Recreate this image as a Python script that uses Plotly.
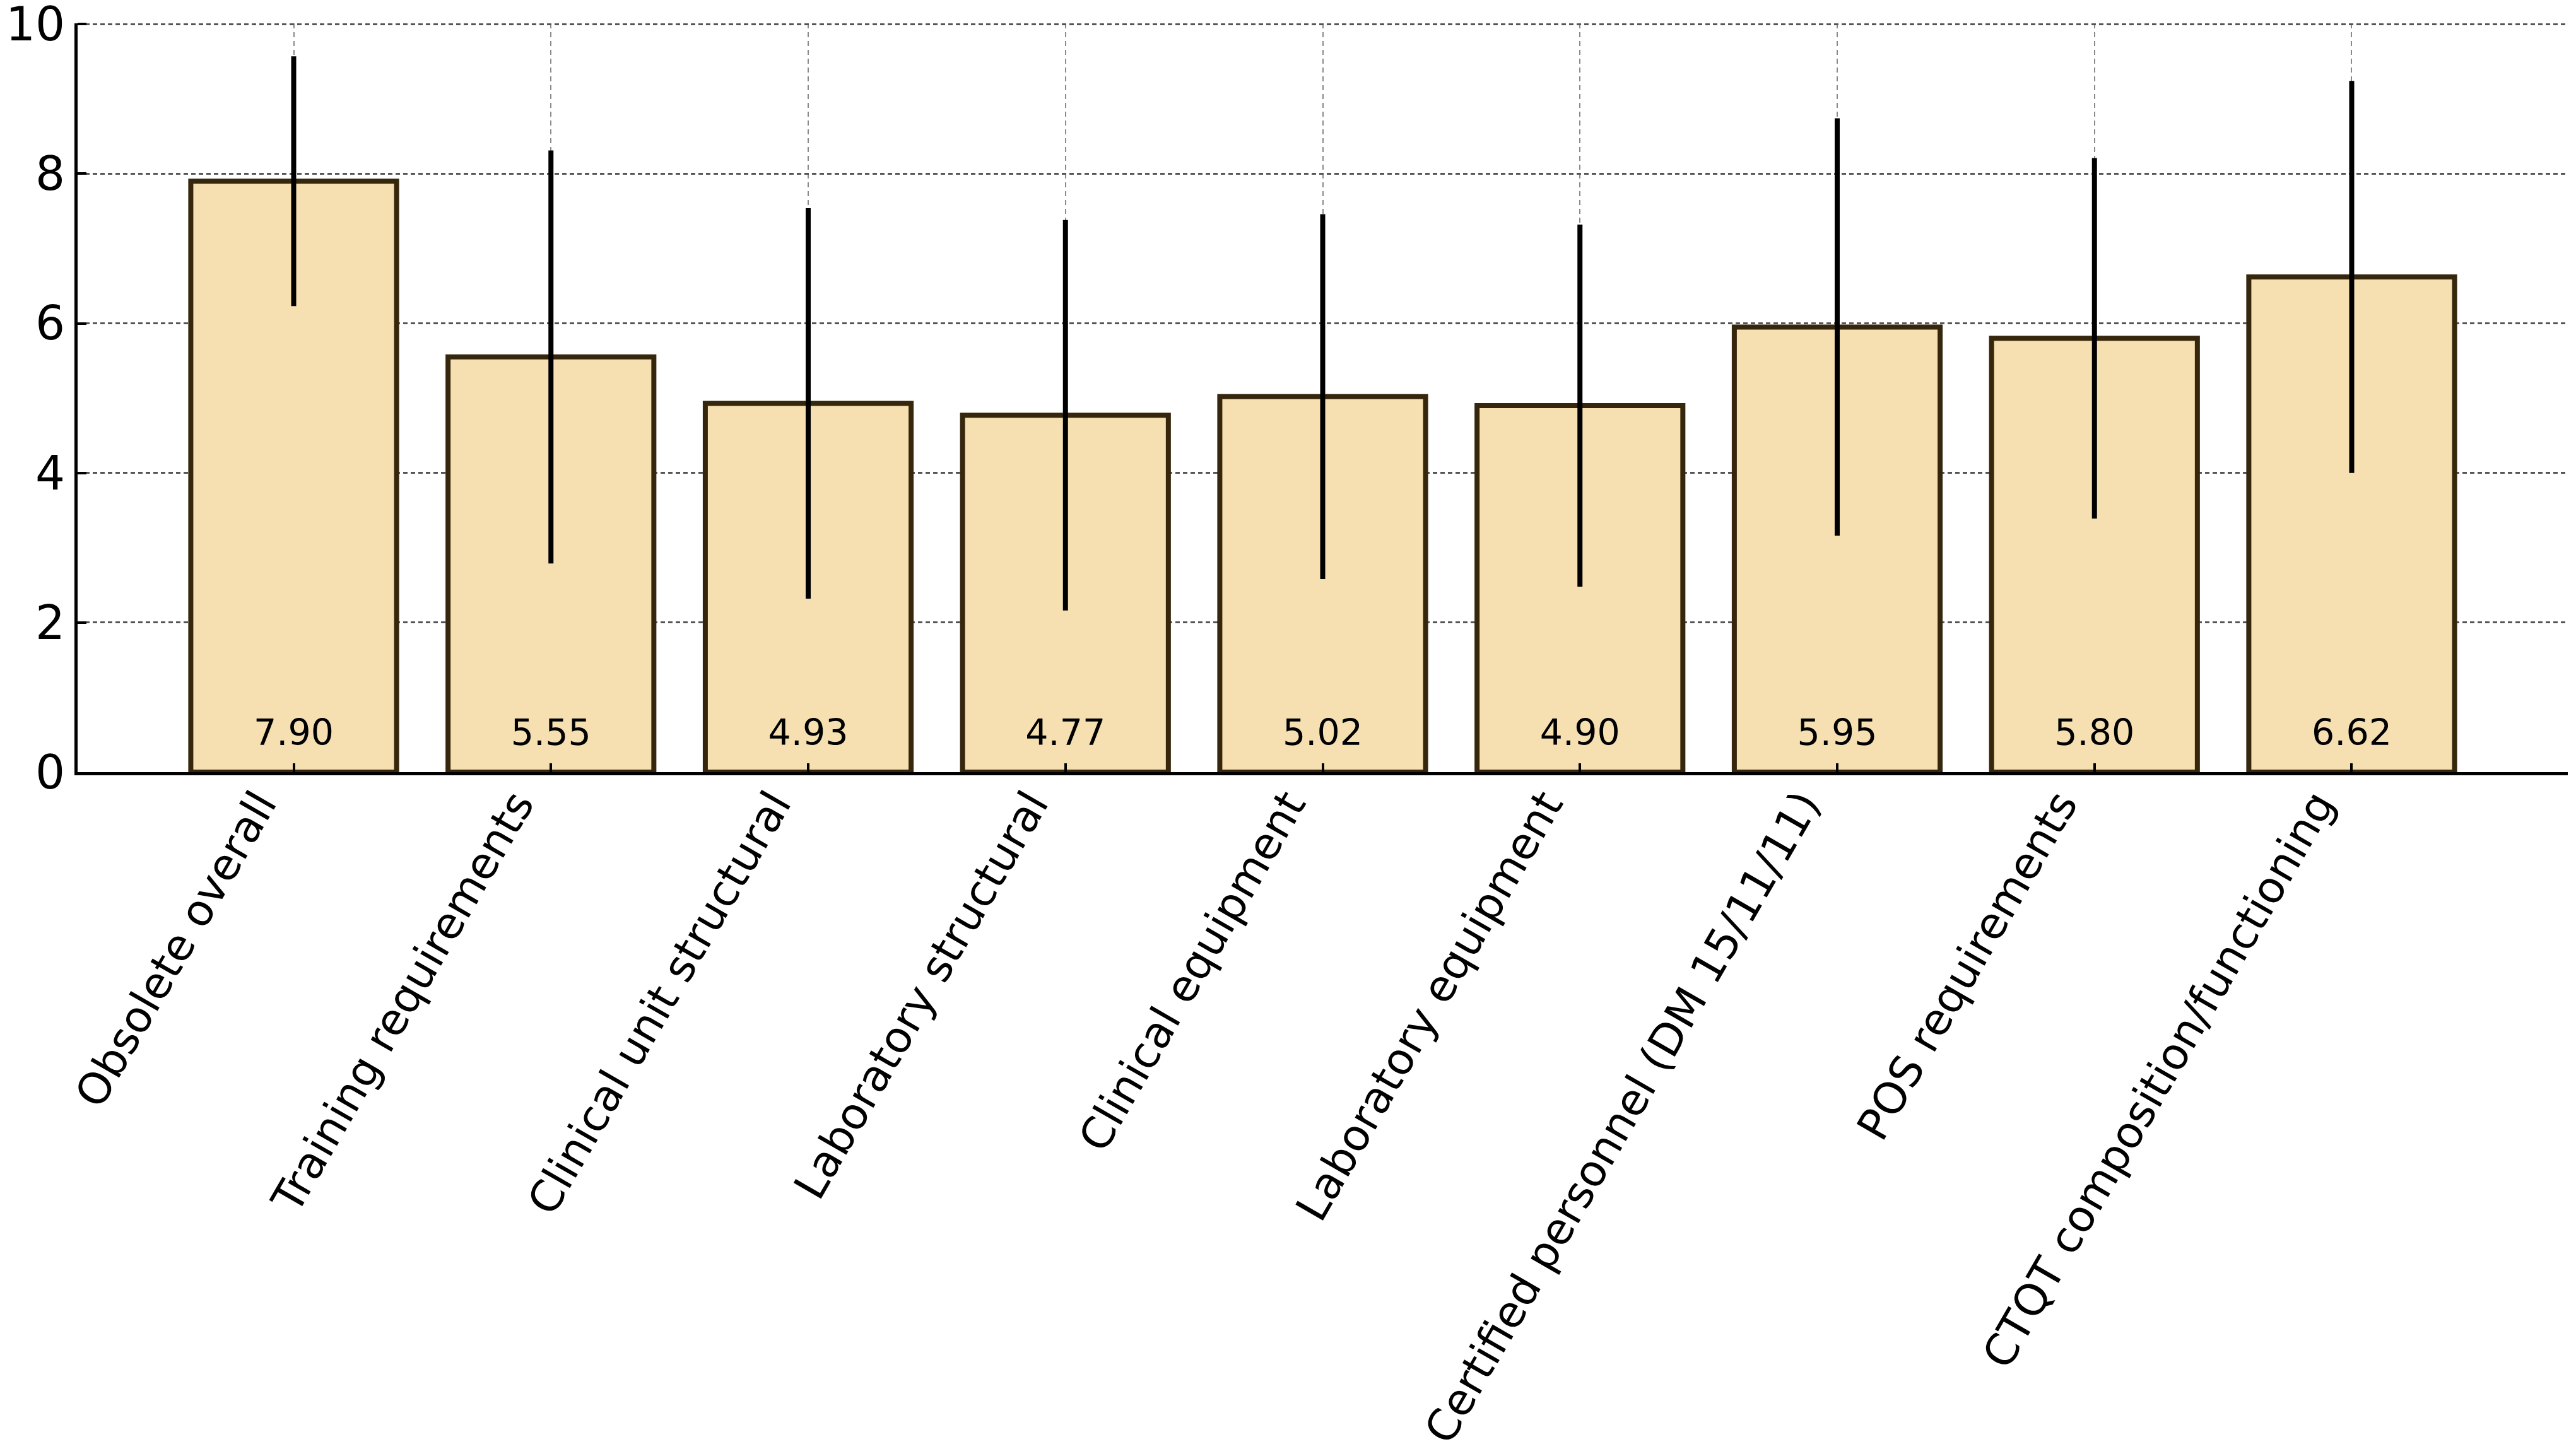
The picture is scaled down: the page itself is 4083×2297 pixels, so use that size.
import plotly.graph_objects as go

categories = [
    "Obsolete overall",
    "Training requirements",
    "Clinical unit structural",
    "Laboratory structural",
    "Clinical equipment",
    "Laboratory equipment",
    "Certified personnel (DM 15/11/11)",
    "POS requirements",
    "CTQT composition/functioning",
]
means = [7.90, 5.55, 4.93, 4.77, 5.02, 4.90, 5.95, 5.80, 6.62]
sds = [1.67, 2.76, 2.61, 2.61, 2.44, 2.42, 2.79, 2.41, 2.62]
value_labels = [f"{m:.2f}" for m in means]
y_ticks = [0, 2, 4, 6, 8, 10]

FONT = "DejaVu Sans"
LABEL_Y = 0.48

fig = go.Figure()
fig.add_trace(go.Bar(
    x=categories,
    y=means,
    width=0.8,
    marker=dict(color="#F6E0B2", line=dict(color="#35260C", width=8)),
    error_y=dict(type="data", array=sds, visible=True, color="black",
                 thickness=8, width=0),
    showlegend=False,
    hoverinfo="skip",
))
fig.add_trace(go.Scatter(
    x=categories,
    y=[LABEL_Y] * len(categories),
    mode="text",
    text=value_labels,
    textposition="middle center",
    textfont=dict(family=FONT, size=57, color="black"),
    showlegend=False,
    hoverinfo="skip",
))

fig.update_layout(
    width=4083,
    height=2297,
    paper_bgcolor="white",
    plot_bgcolor="white",
    margin=dict(l=115, r=21, t=29, b=1081, autoexpand=False),
    font=dict(family=FONT, color="black"),
    bargap=0.2,
)
fig.update_xaxes(
    type="category",
    range=[-0.84, 8.84],
    automargin=False,
    tickangle=-60,
    ticklabelshift=-55,
    ticklabelstandoff=-22,
    tickfont=dict(family=FONT, size=69, color="black"),
    showline=True, linecolor="black", linewidth=5,
    ticks="inside", ticklen=14, tickwidth=4, tickcolor="black",
    showgrid=True, gridcolor="#8a8a8a", gridwidth=2, griddash="8px,6px",
    zeroline=False,
)
fig.update_yaxes(
    range=[0, 10.01],
    automargin=False,
    tickvals=y_ticks,
    ticklabeloverflow="allow",
    tickfont=dict(family=FONT, size=74, color="black"),
    showline=True, linecolor="black", linewidth=5,
    ticks="inside", ticklen=14, tickwidth=4, tickcolor="black",
    showgrid=True, gridcolor="#555555", gridwidth=3, griddash="7px,5px",
    zeroline=False,
)

fig.write_html("out.html")
